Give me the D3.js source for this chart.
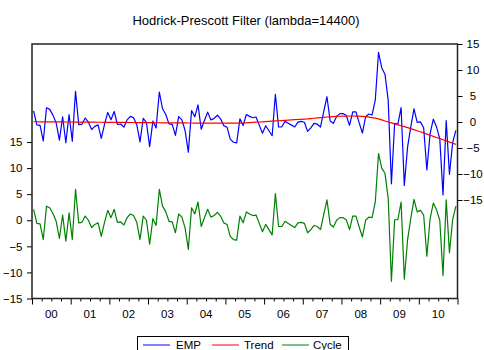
<!DOCTYPE html>
<html>
<head>
<meta charset="utf-8">
<script src="https://cdn.jsdelivr.net/npm/d3@7"></script>
<style>
  html, body { margin: 0; padding: 0; background: #fff; }
  svg { display: block; font-family: "Liberation Sans", Arial, sans-serif; }
</style>
</head>
<body>
<svg id="chart" width="484" height="350"></svg>
<script>
// Monthly observations 2000M01 - 2010M12
const startYear = 2000;
const nObs = 132;
const yearLabels = ["00", "01", "02", "03", "04", "05", "06", "07", "08", "09", "10"];
const axisTicks = [-15, -10, -5, 0, 5, 10, 15];
const seriesNames = ["EMP", "Trend", "Cycle"];
const seriesColors = ["#0000ff", "#ff0000", "#008000"];

// Original series
const emp = [
  2.15, -0.55, -0.66, -3.66, 2.73, 2.43, 1.32, -0.18, -3.49, 1.01, -4.00, 1.40,
  -3.71, 5.89, -0.52, -0.42, 0.77, -0.03, -1.44, -0.84, -0.55, -3.15, -0.46, 1.84,
  0.43, 2.03, -0.48, -0.38, -0.99, 0.41, 1.10, 0.80, -0.51, -3.81, 0.68, -0.12,
  -4.73, 0.17, -1.14, 5.76, 2.55, 1.45, -0.36, -0.46, -2.57, 1.03, 0.42, -1.68,
  -5.79, 2.21, 1.00, 3.30, -1.40, 0.30, 1.90, 0.40, 0.70, 1.30, 0.60, -0.70,
  -1.00, -3.30, -3.90, -4.00, 0.60, -0.69, 1.44, 1.08, 0.82, 0.96, -0.60, -2.16,
  -0.72, -1.68, -2.64, 5.30, -0.96, -0.92, 0.12, -0.24, -0.60, -0.96, -0.02, 0.12,
  -0.04, -1.80, -1.14, -0.28, -0.42, -0.96, 2.00, 4.86, 0.20, -0.26, 1.08, 1.61,
  1.62, 1.24, -0.65, 1.95, 1.94, -0.18, -2.12, 1.02, 1.54, 1.35, 4.24, 13.40,
  10.40, 9.20, 4.20, -11.88, -0.26, -0.44, 2.78, -12.20, -4.88, -0.98, 2.52, -0.08,
  0.02, -1.10, -9.22, -2.24, 0.54, -0.98, -3.20, -14.02, 0.26, -10.06, -3.98, -1.60
];

// HP trend (lambda = 14400)
const trend = [
  0.05, 0.05, 0.04, 0.04, 0.03, 0.03, 0.02, 0.02, 0.01, 0.01, 0.00, 0.00,
  -0.01, -0.01, -0.02, -0.02, -0.03, -0.03, -0.04, -0.04, -0.05, -0.05, -0.06, -0.06,
  -0.07, -0.07, -0.08, -0.08, -0.09, -0.09, -0.10, -0.10, -0.11, -0.11, -0.12, -0.12,
  -0.13, -0.13, -0.14, -0.14, -0.15, -0.15, -0.16, -0.16, -0.17, -0.17, -0.18, -0.18,
  -0.19, -0.19, -0.20, -0.20, -0.20, -0.20, -0.20, -0.20, -0.20, -0.20, -0.20, -0.20,
  -0.20, -0.20, -0.20, -0.20, -0.20, -0.19, -0.16, -0.12, -0.08, -0.04, 0.00, 0.04,
  0.08, 0.12, 0.16, 0.20, 0.24, 0.28, 0.32, 0.36, 0.40, 0.44, 0.48, 0.52,
  0.56, 0.60, 0.66, 0.72, 0.78, 0.84, 0.90, 0.96, 1.00, 1.04, 1.08, 1.11,
  1.12, 1.14, 1.15, 1.15, 1.14, 1.12, 1.08, 1.02, 0.94, 0.85, 0.74, 0.60,
  0.40, 0.20, 0.00, -0.18, -0.36, -0.54, -0.72, -0.90, -1.08, -1.28, -1.48, -1.68,
  -1.88, -2.10, -2.32, -2.54, -2.76, -2.98, -3.20, -3.42, -3.64, -3.86, -4.08, -4.30
];

// Cyclical component
const cycle = [
  2.1, -0.6, -0.7, -3.7, 2.7, 2.4, 1.3, -0.2, -3.5, 1.0, -4.0, 1.4,
  -3.7, 5.9, -0.5, -0.4, 0.8, 0.0, -1.4, -0.8, -0.5, -3.1, -0.4, 1.9,
  0.5, 2.1, -0.4, -0.3, -0.9, 0.5, 1.2, 0.9, -0.4, -3.7, 0.8, 0.0,
  -4.6, 0.3, -1.0, 5.9, 2.7, 1.6, -0.2, -0.3, -2.4, 1.2, 0.6, -1.5,
  -5.6, 2.4, 1.2, 3.5, -1.2, 0.5, 2.1, 0.6, 0.9, 1.5, 0.8, -0.5,
  -0.8, -3.1, -3.7, -3.8, 0.8, -0.5, 1.6, 1.2, 0.9, 1.0, -0.6, -2.2,
  -0.8, -1.8, -2.8, 5.1, -1.2, -1.2, -0.2, -0.6, -1.0, -1.4, -0.5, -0.4,
  -0.6, -2.4, -1.8, -1.0, -1.2, -1.8, 1.1, 3.9, -0.8, -1.3, 0.0, 0.5,
  0.5, 0.1, -1.8, 0.8, 0.8, -1.3, -3.2, 0.0, 0.6, 0.5, 3.5, 12.8,
  10.0, 9.0, 4.2, -11.7, 0.1, 0.1, 3.5, -11.3, -3.8, 0.3, 4.0, 1.6,
  1.9, 1.0, -6.9, 0.3, 3.3, 2.0, 0.0, -10.6, 3.9, -6.2, 0.1, 2.7
];

const svg = d3.select("#chart");
const W = 484, H = 350;
const plotL = 32, plotR = 457.5, plotT = 44, plotB = 298.5;

svg.append("rect").attr("width", W).attr("height", H).attr("fill", "#fff");

// Time axis: each observation sits in the middle of its monthly slot
const x = d3.scaleLinear().domain([-0.5, nObs - 0.5]).range([plotL, plotR]);
// Upper block (EMP, Trend) on the right scale, lower block (Cycle) on the left scale
const yRight = d3.scaleLinear().domain([-15, 15]).range([200, plotT]);
const yLeft = d3.scaleLinear().domain([-15, 15]).range([plotB, 142]);

// Title
svg.append("text")
  .attr("x", 246).attr("y", 25)
  .attr("text-anchor", "middle")
  .attr("font-size", 13)
  .attr("fill", "#000")
  .text("Hodrick-Prescott Filter (lambda=14400)");

// Left axis
const gL = svg.append("g").attr("transform", `translate(${plotL},0)`)
  .call(d3.axisLeft(yLeft).tickValues(axisTicks).tickSize(5).tickPadding(4.5).tickFormat(d3.format("d")));
gL.select(".domain").remove();
gL.selectAll("text").attr("font-size", 11.5).attr("font-family", "Liberation Sans, Arial, sans-serif").attr("fill", "#000");
gL.selectAll("line").attr("stroke", "#000");

// Right axis
const gR = svg.append("g").attr("transform", `translate(${plotR},0)`)
  .call(d3.axisRight(yRight).tickValues(axisTicks).tickSize(5).tickFormat(d3.format("d")));
gR.select(".domain").remove();
gR.selectAll("text").attr("font-size", 11.5).attr("font-family", "Liberation Sans, Arial, sans-serif")
  .attr("fill", "#000").attr("text-anchor", "middle").attr("x", 15.5);
gR.selectAll("line").attr("stroke", "#000");

// Bottom axis: quarterly ticks, longer at year boundaries
const quarterTicks = d3.range(0, nObs + 1, 3).map(m => m - 0.5);
const gB = svg.append("g").attr("transform", `translate(0,${plotB})`)
  .call(d3.axisBottom(x).tickValues(quarterTicks).tickSize(3).tickFormat(""));
gB.select(".domain").remove();
gB.selectAll(".tick line")
  .attr("stroke", "#000")
  .attr("y2", d => ((d + 0.5) % 12 === 0 ? 6 : 3));

// Year labels centred on each year
svg.append("g").selectAll("text")
  .data(yearLabels)
  .join("text")
  .attr("x", (d, i) => (x(i * 12 - 0.5) + x(i * 12 + 11.5)) / 2)
  .attr("y", 318)
  .attr("text-anchor", "middle")
  .attr("font-size", 11.5)
  .attr("fill", "#000")
  .text(d => d);

// Series lines
const line = (scale) => d3.line().x((d, i) => x(i)).y(d => scale(d));
const plot = svg.append("g");
plot.append("path").datum(cycle).attr("d", line(yLeft))
  .attr("fill", "none").attr("stroke", seriesColors[2]).attr("stroke-width", 1.2).attr("stroke-linejoin", "round");
plot.append("path").datum(emp).attr("d", line(yRight))
  .attr("fill", "none").attr("stroke", seriesColors[0]).attr("stroke-width", 1.2).attr("stroke-linejoin", "round");
plot.append("path").datum(trend).attr("d", line(yRight))
  .attr("fill", "none").attr("stroke", seriesColors[1]).attr("stroke-width", 1.2).attr("stroke-linejoin", "round");

// Frame
svg.append("rect")
  .attr("x", plotL).attr("y", plotT)
  .attr("width", plotR - plotL).attr("height", plotB - plotT)
  .attr("fill", "none").attr("stroke", "#222").attr("stroke-width", 1.5);

// Legend
const lg = svg.append("g");
lg.append("rect").attr("x", 137.5).attr("y", 336.5).attr("width", 211).attr("height", 20)
  .attr("fill", "#fff").attr("stroke", "#000").attr("stroke-width", 1);
const legendPos = [{ lx: 143, tx: 176 }, { lx: 212, tx: 244 }, { lx: 282, tx: 313 }];
seriesNames.forEach((name, i) => {
  lg.append("line").attr("x1", legendPos[i].lx).attr("x2", legendPos[i].lx + 27)
    .attr("y1", 345).attr("y2", 345).attr("stroke", seriesColors[i]).attr("stroke-width", 1);
  lg.append("text").attr("x", legendPos[i].tx).attr("y", 349)
    .attr("font-size", 11.5).attr("fill", "#000").text(name);
});
</script>
</body>
</html>
